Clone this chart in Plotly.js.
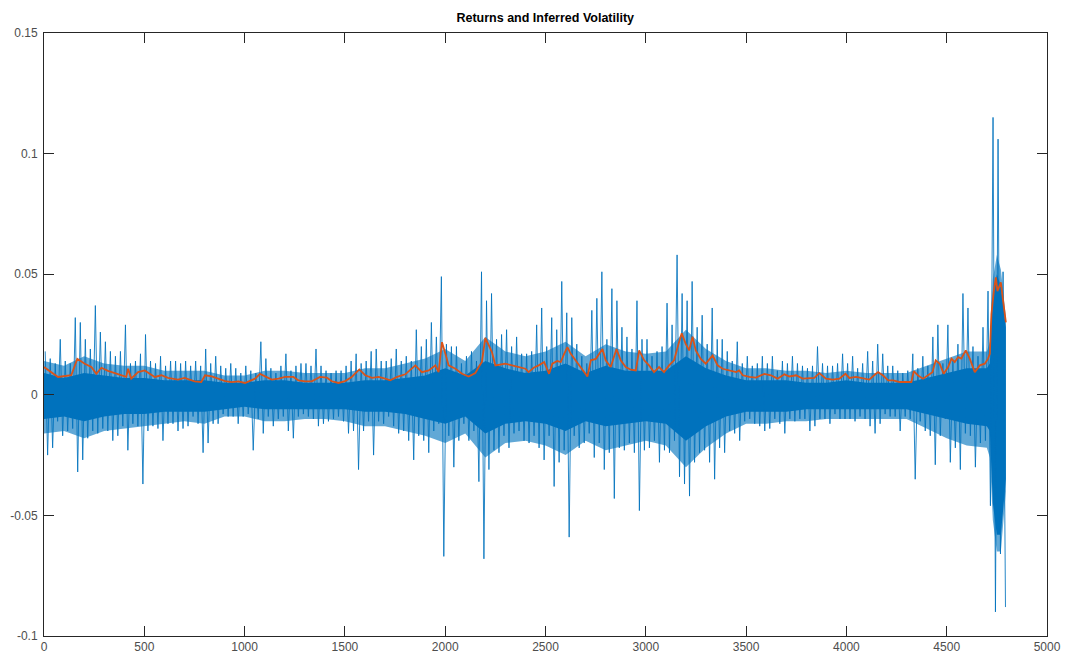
<!DOCTYPE html>
<html><head><meta charset="utf-8">
<script src="https://cdn.plot.ly/plotly-3.0.1.min.js"></script>
<style>html,body{margin:0;padding:0;background:#fff}#chart{width:1066px;height:666px}</style>
</head><body><div id="chart"></div>
<script>
const bucketWidth = 25;
const returnHigh = [
0.018,0.015,0.013,0.023,0.014,0.013,0.032,0.030,0.023,0.019,0.037,0.026,0.022,0.018,0.016,0.018,0.029,0.013,0.014,0.017,0.025,0.014,0.013,0.016,0.012,0.014,0.014,0.013,0.014,0.012,0.014,0.012,
0.019,0.013,0.016,0.012,0.011,0.013,0.011,0.009,0.012,0.010,0.009,0.022,0.015,0.011,0.009,0.012,0.017,0.010,0.012,0.013,0.013,0.012,0.019,0.012,0.010,0.009,0.010,0.010,0.012,0.014,0.017,0.013,0.014,0.018,
0.019,0.014,0.014,0.015,0.019,0.014,0.016,0.014,0.027,0.020,0.023,0.030,0.024,0.049,0.021,0.020,0.020,0.013,0.016,0.018,0.014,0.051,0.039,0.042,0.023,0.025,0.027,0.020,0.024,0.017,0.017,0.018,0.029,0.036,
0.020,0.032,0.027,0.047,0.034,0.032,0.021,0.016,0.013,0.035,0.040,0.051,0.023,0.044,0.039,0.028,0.024,0.019,0.039,0.023,0.023,0.016,0.018,0.020,0.038,0.029,0.058,0.042,0.039,0.047,0.028,0.033,0.021,
0.036,0.023,0.023,0.018,0.014,0.022,0.013,0.016,0.012,0.013,0.016,0.013,0.016,0.010,0.014,0.013,0.016,0.013,0.012,0.011,0.012,0.020,0.013,0.012,0.012,0.013,0.017,0.013,0.016,0.011,0.013,0.018,0.014,
0.021,0.017,0.012,0.012,0.010,0.009,0.010,0.017,0.011,0.016,0.012,0.024,0.029,0.013,0.029,0.014,0.021,0.042,0.036,0.020,0.016,0.028,0.043,0.115,0.106,0.051
];
const returnLow = [
-0.025,-0.022,-0.011,-0.017,-0.015,-0.014,-0.032,-0.027,-0.018,-0.015,-0.016,-0.014,-0.015,-0.019,-0.017,-0.013,-0.023,-0.012,-0.013,-0.037,-0.015,-0.013,-0.014,-0.019,-0.012,-0.012,-0.015,-0.014,-0.013,-0.009,-0.012,-0.024,
-0.020,-0.012,-0.012,-0.008,-0.009,-0.009,-0.012,-0.009,-0.008,-0.023,-0.010,-0.016,-0.009,-0.013,-0.010,-0.009,-0.015,-0.018,-0.009,-0.008,-0.009,-0.010,-0.013,-0.012,-0.011,-0.010,-0.009,-0.011,-0.016,-0.015,-0.031,-0.015,-0.011,-0.025,
-0.011,-0.012,-0.009,-0.013,-0.016,-0.015,-0.019,-0.027,-0.017,-0.019,-0.024,-0.015,-0.012,-0.067,-0.017,-0.030,-0.019,-0.012,-0.019,-0.015,-0.036,-0.068,-0.031,-0.023,-0.024,-0.017,-0.022,-0.016,-0.015,-0.019,-0.020,-0.017,-0.022,-0.027,
-0.017,-0.038,-0.028,-0.023,-0.059,-0.017,-0.022,-0.020,-0.016,-0.026,-0.020,-0.031,-0.024,-0.043,-0.022,-0.023,-0.020,-0.024,-0.048,-0.023,-0.022,-0.019,-0.028,-0.023,-0.024,-0.019,-0.034,-0.037,-0.042,-0.028,-0.024,-0.023,-0.028,
-0.035,-0.022,-0.024,-0.015,-0.016,-0.019,-0.011,-0.010,-0.012,-0.013,-0.015,-0.014,-0.010,-0.012,-0.016,-0.010,-0.011,-0.010,-0.010,-0.015,-0.013,-0.010,-0.010,-0.012,-0.008,-0.010,-0.010,-0.010,-0.011,-0.009,-0.010,-0.013,-0.016,
-0.012,-0.008,-0.009,-0.009,-0.015,-0.009,-0.010,-0.035,-0.011,-0.015,-0.017,-0.029,-0.017,-0.010,-0.028,-0.022,-0.031,-0.016,-0.017,-0.030,-0.020,-0.019,-0.046,-0.090,-0.066,-0.088
];
// Dense core of the returns band and the outer edge of its dense fringe
const coreX = [0,100,200,300,400,500,600,700,800,900,1000,1100,1200,1300,1400,1500,1600,1700,1800,1900,2000,2100,2200,2300,2400,2500,2600,2700,2800,2900,3000,3100,3200,3300,3400,3500,3600,3700,3800,3900,4000,4100,4200,4300,4400,4500,4600,4700,4715,4730,4750,4770,4795];
const coreHigh = [0.009,0.007,0.009,0.008,0.007,0.007,0.006,0.006,0.006,0.005,0.005,0.006,0.006,0.005,0.005,0.005,0.006,0.006,0.007,0.008,0.011,0.008,0.014,0.011,0.009,0.010,0.013,0.009,0.012,0.010,0.010,0.010,0.016,0.011,0.008,0.006,0.006,0.006,0.005,0.005,0.006,0.005,0.005,0.005,0.007,0.009,0.011,0.011,0.013,0.040,0.050,0.045,0.028];
const coreLow = [-0.010,-0.009,-0.011,-0.009,-0.008,-0.008,-0.007,-0.007,-0.007,-0.006,-0.005,-0.006,-0.006,-0.006,-0.006,-0.006,-0.007,-0.007,-0.008,-0.010,-0.012,-0.009,-0.016,-0.012,-0.011,-0.012,-0.015,-0.011,-0.013,-0.012,-0.011,-0.012,-0.019,-0.013,-0.009,-0.007,-0.007,-0.007,-0.006,-0.006,-0.006,-0.006,-0.006,-0.006,-0.008,-0.010,-0.012,-0.013,-0.015,-0.045,-0.058,-0.058,-0.035];
const fringeHigh = [0.014,0.012,0.016,0.013,0.012,0.012,0.010,0.010,0.010,0.008,0.008,0.010,0.010,0.009,0.009,0.009,0.011,0.011,0.013,0.015,0.019,0.014,0.024,0.018,0.016,0.018,0.022,0.016,0.021,0.018,0.017,0.018,0.027,0.019,0.014,0.011,0.011,0.010,0.010,0.009,0.010,0.009,0.009,0.009,0.012,0.015,0.018,0.018,0.022,0.048,0.058,0.052,0.032];
const fringeLow = [-0.016,-0.015,-0.018,-0.015,-0.014,-0.013,-0.012,-0.011,-0.012,-0.009,-0.009,-0.011,-0.011,-0.010,-0.010,-0.011,-0.013,-0.013,-0.015,-0.017,-0.020,-0.016,-0.026,-0.020,-0.019,-0.021,-0.025,-0.019,-0.023,-0.021,-0.019,-0.021,-0.030,-0.022,-0.016,-0.012,-0.012,-0.011,-0.011,-0.010,-0.010,-0.010,-0.010,-0.010,-0.014,-0.018,-0.021,-0.022,-0.026,-0.052,-0.065,-0.065,-0.040];
// Inferred volatility
const volX = [0,36,70,136,166,203,236,261,286,319,369,410,419,435,469,502,552,585,618,668,701,751,784,
803,836,869,903,936,969,1002,1036,1052,1077,1102,1135,1169,1202,1243,1268,1302,1335,1376,1410,1435,1468,1501,1534,1572,1601,
1635,1668,1701,1726,1760,1801,1851,1884,1918,1951,1967,1984,2001,2017,2051,2084,2117,2150,2167,2183,2200,2217,2233,2250,2275,2300,2333,2366,2400,2416,2441,2466,
2493,2518,2534,2559,2576,2593,2609,2626,2651,2676,2709,2726,2751,2784,2800,2825,2854,2875,2900,2925,2950,2967,2992,3016,3041,3066,3091,3116,3141,3163,3179,3199,3216,3233,3249,3274,3299,
3333,3358,3383,3416,3450,3466,3483,3516,3549,3591,3624,3657,3691,3716,3749,3782,3815,3840,3865,3898,3932,3965,3995,4015,4048,4081,4114,4144,
4158,4183,4208,4233,4266,4299,4324,4336,4357,4382,4407,4429,4445,4465,4485,4507,4524,4540,4557,4573,4595,4615,4640,4665,4690,4706,4715,4723,4735,4745,4753,4761,4770,4781,4795];
const volY = [0.0115,0.0094,0.0074,0.0081,0.0149,0.0129,0.0115,0.0087,0.0112,0.0099,0.0087,0.0074,0.0108,0.0067,0.0094,0.0101,0.0074,0.0081,0.0070,0.0063,0.0070,0.0056,0.0053,
0.0081,0.0076,0.0067,0.0057,0.0053,0.0056,0.0049,0.0060,0.0067,0.0087,0.0076,0.0063,0.0067,0.0074,0.0074,0.0060,0.0056,0.0056,0.0074,0.0071,0.0056,0.0049,0.0057,0.0074,0.0105,0.0081,
0.0070,0.0074,0.0067,0.0060,0.0074,0.0085,0.0122,0.0094,0.0101,0.0122,0.0094,0.0218,0.0170,0.0122,0.0108,0.0087,0.0076,0.0090,0.0115,0.0136,0.0236,0.0204,0.0177,0.0122,0.0126,0.0129,0.0122,0.0115,0.0108,0.0094,0.0112,0.0122,
0.0136,0.0087,0.0129,0.0140,0.0136,0.0170,0.0198,0.0170,0.0143,0.0115,0.0076,0.0143,0.0149,0.0190,0.0143,0.0115,0.0190,0.0143,0.0115,0.0104,0.0101,0.0184,0.0143,0.0122,0.0094,0.0115,0.0094,0.0122,0.0143,0.0211,0.0255,0.0211,0.0184,0.0241,0.0184,0.0149,0.0129,
0.0163,0.0122,0.0108,0.0101,0.0094,0.0101,0.0081,0.0074,0.0071,0.0087,0.0081,0.0067,0.0085,0.0076,0.0081,0.0067,0.0067,0.0070,0.0090,0.0067,0.0063,0.0067,0.0087,0.0070,0.0074,0.0067,0.0063,0.0085,
0.0094,0.0080,0.0060,0.0060,0.0053,0.0053,0.0053,0.0098,0.0080,0.0067,0.0080,0.0094,0.0143,0.0129,0.0087,0.0115,0.0150,0.0136,0.0156,0.0150,0.0184,0.0150,0.0094,0.0122,0.0129,0.0150,0.0170,0.0335,0.0430,0.0487,0.0430,0.0446,0.0466,0.0390,0.0300];

const xTickVals = [0,500,1000,1500,2000,2500,3000,3500,4000,4500,5000];
const yTickVals = [-0.1,-0.05,0,0.05,0.1,0.15];
const yTickText = ['-0.1','-0.05','0','0.05','0.1','0.15'];

const retX = [], retY = [];
returnHigh.forEach((h, i) => {
  retX.push(i * bucketWidth + 6); retY.push(h);
  retX.push(i * bucketWidth + 18); retY.push(returnLow[i]);
});
const band = (hi, lo) => ({x: coreX.concat(coreX.slice().reverse()), y: hi.concat(lo.slice().reverse())});

const blue = '#0072BD', orange = '#D95319';
const fr = band(fringeHigh, fringeLow), co = band(coreHigh, coreLow);
const traces = [
  {x: fr.x, y: fr.y, type: 'scatter', mode: 'lines', fill: 'toself', fillcolor: 'rgba(0,114,189,0.62)',
   line: {width: 0, color: blue}, hoverinfo: 'skip', showlegend: false},
  {x: co.x, y: co.y, type: 'scatter', mode: 'lines', fill: 'toself', fillcolor: blue,
   line: {width: 0, color: blue}, hoverinfo: 'skip', showlegend: false},
  {x: retX, y: retY, type: 'scatter', mode: 'lines', line: {color: 'rgba(0,114,189,0.85)', width: 1}, showlegend: false, name: 'Returns'},
  {x: volX, y: volY, type: 'scatter', mode: 'lines', line: {color: orange, width: 1.8}, showlegend: false, name: 'Volatility'}
];
const axisCommon = {showline: true, linecolor: '#262626', linewidth: 1, mirror: 'ticks', ticks: 'inside', ticklen: 10,
  tickcolor: '#262626', tickwidth: 1, showgrid: false, zeroline: false,
  tickfont: {family: 'Liberation Sans, Arial, sans-serif', size: 12, color: '#4d4d4d'}};
const layout = {
  width: 1066, height: 666,
  margin: {l: 44, r: 19, t: 33, b: 30},
  paper_bgcolor: '#fff', plot_bgcolor: '#fff',
  title: {text: '<b>Returns and Inferred Volatility</b>', font: {family: 'Liberation Sans, Arial, sans-serif', size: 12.5, color: '#000'},
    x: 0.5115, xanchor: 'center', y: 1 - 18/666, yref: 'container', yanchor: 'middle'},
  xaxis: Object.assign({}, axisCommon, {range: [0, 5000], tickvals: xTickVals, ticktext: xTickVals.map(String)}),
  yaxis: Object.assign({}, axisCommon, {range: [-0.1, 0.15], tickvals: yTickVals, ticktext: yTickText, ticklabelstandoff: 3})
};
Plotly.newPlot('chart', traces, layout, {displayModeBar: false, staticPlot: true});
</script></body></html>
